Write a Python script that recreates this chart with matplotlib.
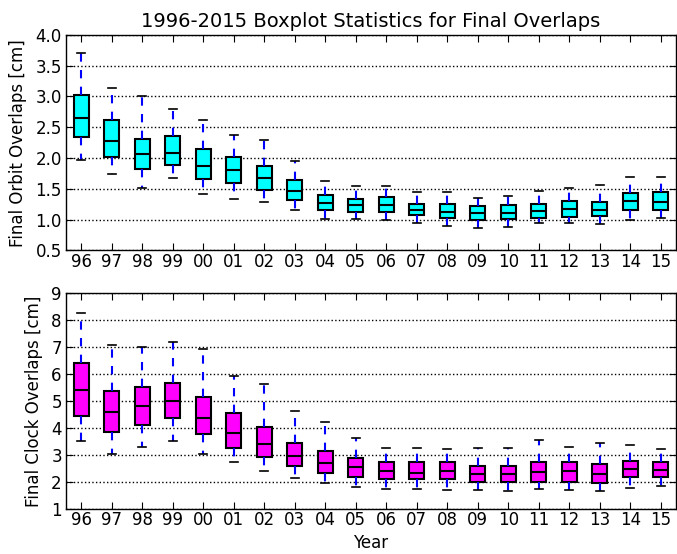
import matplotlib
matplotlib.use('Agg')
import matplotlib.pyplot as plt

years = ['96', '97', '98', '99', '00', '01', '02', '03', '04', '05',
         '06', '07', '08', '09', '10', '11', '12', '13', '14', '15']

# orbit overlaps [cm]: lower whisker, q1, median, q3, upper whisker
orbit_lo = [1.97, 1.74, 1.52, 1.67, 1.42, 1.33, 1.28, 1.15, 1.01, 1.01,
            0.99, 0.94, 0.90, 0.87, 0.88, 0.94, 0.94, 0.93, 1.00, 1.03]
orbit_q1 = [2.34, 2.01, 1.82, 1.88, 1.66, 1.59, 1.48, 1.32, 1.16, 1.12,
            1.13, 1.07, 1.03, 1.00, 1.01, 1.03, 1.05, 1.06, 1.15, 1.16]
orbit_med = [2.65, 2.28, 2.07, 2.09, 1.87, 1.80, 1.68, 1.47, 1.27, 1.23,
             1.24, 1.16, 1.13, 1.10, 1.11, 1.14, 1.18, 1.16, 1.30, 1.29]
orbit_q3 = [3.02, 2.61, 2.31, 2.36, 2.15, 2.01, 1.87, 1.64, 1.40, 1.34,
            1.36, 1.26, 1.25, 1.22, 1.23, 1.25, 1.31, 1.28, 1.44, 1.45]
orbit_hi = [3.71, 3.14, 3.00, 2.79, 2.62, 2.37, 2.30, 1.95, 1.63, 1.55,
            1.54, 1.45, 1.45, 1.35, 1.39, 1.47, 1.51, 1.56, 1.70, 1.69]

# clock overlaps [cm]
clock_lo = [3.51, 3.04, 3.30, 3.51, 3.03, 2.74, 2.41, 2.13, 1.95, 1.80,
            1.74, 1.73, 1.69, 1.69, 1.67, 1.74, 1.68, 1.65, 1.77, 1.85]
clock_q1 = [4.45, 3.86, 4.10, 4.38, 3.75, 3.23, 2.91, 2.57, 2.31, 2.17,
            2.09, 2.09, 2.09, 2.00, 1.98, 2.00, 2.00, 1.96, 2.16, 2.16]
clock_med = [5.41, 4.57, 4.80, 4.99, 4.37, 3.81, 3.39, 2.97, 2.70, 2.54,
             2.39, 2.33, 2.39, 2.29, 2.29, 2.36, 2.38, 2.29, 2.47, 2.43]
clock_q3 = [6.39, 5.35, 5.53, 5.66, 5.14, 4.55, 4.01, 3.43, 3.14, 2.89,
            2.74, 2.72, 2.74, 2.58, 2.58, 2.73, 2.72, 2.66, 2.78, 2.74]
clock_hi = [8.27, 7.06, 6.98, 7.19, 6.94, 5.93, 5.63, 4.62, 4.23, 3.61,
            3.26, 3.23, 3.22, 3.26, 3.25, 3.54, 3.30, 3.43, 3.35, 3.20]


def make_stats(lo, q1, med, q3, hi):
    return [dict(whislo=a, q1=b, med=c, q3=d, whishi=e, fliers=[])
            for a, b, c, d, e in zip(lo, q1, med, q3, hi)]


def draw_panel(ax, stats, color, ylim, yticks, ylabel):
    ax.bxp(stats, positions=range(1, len(stats) + 1), widths=0.5,
           patch_artist=True, showfliers=False,
           boxprops=dict(facecolor=color, edgecolor='black', linewidth=1.5),
           whiskerprops=dict(color='blue', linestyle=(0, (4, 4)), linewidth=1.5),
           capprops=dict(color='black', linewidth=1.2),
           medianprops=dict(color='black', linewidth=1.5))
    ax.set_xlim(0.5, len(stats) + 0.5)
    ax.set_ylim(*ylim)
    ax.set_yticks(yticks)
    ax.set_xticks(range(1, len(stats) + 1))
    ax.set_xticklabels(years)
    ax.yaxis.grid(True, color='black', linestyle=':', linewidth=1.0)
    ax.set_axisbelow(True)
    ax.tick_params(direction='in', top=True, right=True, length=5,
                   labelsize=12)
    ax.tick_params(axis='x', pad=2)
    ax.tick_params(axis='y', pad=3)
    ax.set_ylabel(ylabel, fontsize=12, labelpad=6)
    for s in ax.spines.values():
        s.set_linewidth(1.0)


fig = plt.figure(figsize=(6.77, 5.54), dpi=100)
ax1 = fig.add_axes([0.0975, 0.548, 0.9010, 0.389])
ax2 = fig.add_axes([0.0975, 0.082, 0.9010, 0.389])

draw_panel(ax1, make_stats(orbit_lo, orbit_q1, orbit_med, orbit_q3, orbit_hi),
           'cyan', (0.5, 4.0), [0.5, 1.0, 1.5, 2.0, 2.5, 3.0, 3.5, 4.0],
           'Final Orbit Overlaps [cm]')
ax1.set_yticklabels(['0.5', '1.0', '1.5', '2.0', '2.5', '3.0', '3.5', '4.0'])
ax1.set_title('1996-2015 Boxplot Statistics for Final Overlaps', fontsize=14)

draw_panel(ax2, make_stats(clock_lo, clock_q1, clock_med, clock_q3, clock_hi),
           'magenta', (1, 9), range(1, 10), 'Final Clock Overlaps [cm]')
ax2.set_xlabel('Year', fontsize=12, labelpad=3)

fig.savefig('out.png', dpi=100)
